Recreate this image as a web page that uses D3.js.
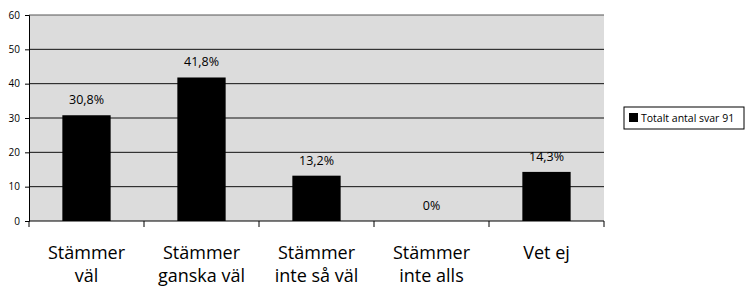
<!DOCTYPE html>
<meta charset="utf-8">
<script src="https://cdn.jsdelivr.net/npm/d3@7"></script>
<style>
    body { margin: 0; background: #fff; }
    text { font-family: "Open Sans", "Noto Sans", sans-serif; }
</style>
<body>
<script>
    // chart data
    const categories = [["Stämmer", "väl"], ["Stämmer", "ganska väl"], ["Stämmer", "inte så väl"], ["Stämmer", "inte alls"], ["Vet ej"]];
    const values = [30.8, 41.8, 13.2, 0, 14.3];
    const valueLabels = ["30,8%", "41,8%", "13,2%", "0%", "14,3%"];
    const yTicks = [0, 10, 20, 30, 40, 50, 60];
    const legendLabel = "Totalt antal svar 91";

    const width = 745, height = 287;
    const margin = {top: 15, right: 141, bottom: 66, left: 29};
    const innerW = width - margin.left - margin.right,
          innerH = height - margin.top - margin.bottom;

    const svg = d3.select("body").append("svg")
        .attr("width", width)
        .attr("height", height);

    const g = svg.append("g")
        .attr("transform", "translate(" + margin.left + "," + margin.top + ")");

    const x = d3.scaleBand()
        .domain(d3.range(categories.length))
        .range([0, innerW])
        .paddingInner(0.58)
        .paddingOuter(0.29);

    const xb = d3.scaleBand().domain(d3.range(categories.length)).range([0, innerW]);

    const y = d3.scaleLinear().domain([0, 60]).range([innerH, 0]);

    // plot background
    g.append("rect")
        .attr("width", innerW)
        .attr("height", innerH)
        .attr("fill", "#dcdcdc");

    // gridlines
    g.selectAll(".grid")
        .data(yTicks.filter(d => d > 0))
        .enter().append("line")
        .attr("x1", 0).attr("x2", innerW)
        .attr("y1", d => y(d)).attr("y2", d => y(d))
        .attr("stroke", d => d === 60 ? "#555" : "#111")
        .attr("stroke-width", 1);

    // bars
    g.selectAll(".bar")
        .data(values)
        .enter().append("rect")
        .attr("x", (d, i) => x(i))
        .attr("width", x.bandwidth())
        .attr("y", d => y(d))
        .attr("height", d => innerH - y(d))
        .attr("fill", "#000");

    // value labels
    g.selectAll(".vlab")
        .data(values)
        .enter().append("text")
        .attr("x", (d, i) => x(i) + x.bandwidth() / 2)
        .attr("y", d => y(d) - 11)
        .attr("text-anchor", "middle")
        .attr("font-size", 12.5)
        .text((d, i) => valueLabels[i]);

    // y axis
    const yAxis = g.append("g")
        .call(d3.axisLeft(y).tickValues(yTicks).tickSize(4).tickPadding(5));
    yAxis.select(".domain").attr("stroke", "#000");
    yAxis.selectAll("text").attr("font-size", 10).attr("font-family", "Open Sans, sans-serif");

    // x axis with ticks at category boundaries
    g.append("line")
        .attr("x1", 0).attr("x2", innerW)
        .attr("y1", innerH).attr("y2", innerH)
        .attr("stroke", "#000");
    g.selectAll(".xtick")
        .data(d3.range(categories.length + 1))
        .enter().append("line")
        .attr("x1", i => i < categories.length ? xb(i) : innerW)
        .attr("x2", i => i < categories.length ? xb(i) : innerW)
        .attr("y1", innerH).attr("y2", innerH + 6)
        .attr("stroke", "#000");

    // category labels
    const cl = g.selectAll(".cat")
        .data(categories)
        .enter().append("text")
        .attr("text-anchor", "middle")
        .attr("font-size", 18)
        .attr("transform", (d, i) => "translate(" + (xb(i) + xb.bandwidth() / 2) + "," + (innerH + 38) + ")");
    cl.selectAll("tspan")
        .data(d => d)
        .enter().append("tspan")
        .attr("x", 0)
        .attr("dy", (d, i) => i === 0 ? 0 : 23)
        .text(d => d);

    // legend
    const lg = svg.append("g").attr("transform", "translate(624,107)");
    lg.append("rect")
        .attr("width", 120).attr("height", 22)
        .attr("fill", "#fff").attr("stroke", "#000");
    lg.append("rect")
        .attr("x", 5).attr("y", 6).attr("width", 9).attr("height", 9)
        .attr("fill", "#000");
    lg.append("text")
        .attr("x", 17).attr("y", 15)
        .attr("font-size", 10.5)
        .text(legendLabel);
</script>
</body>
</html>
